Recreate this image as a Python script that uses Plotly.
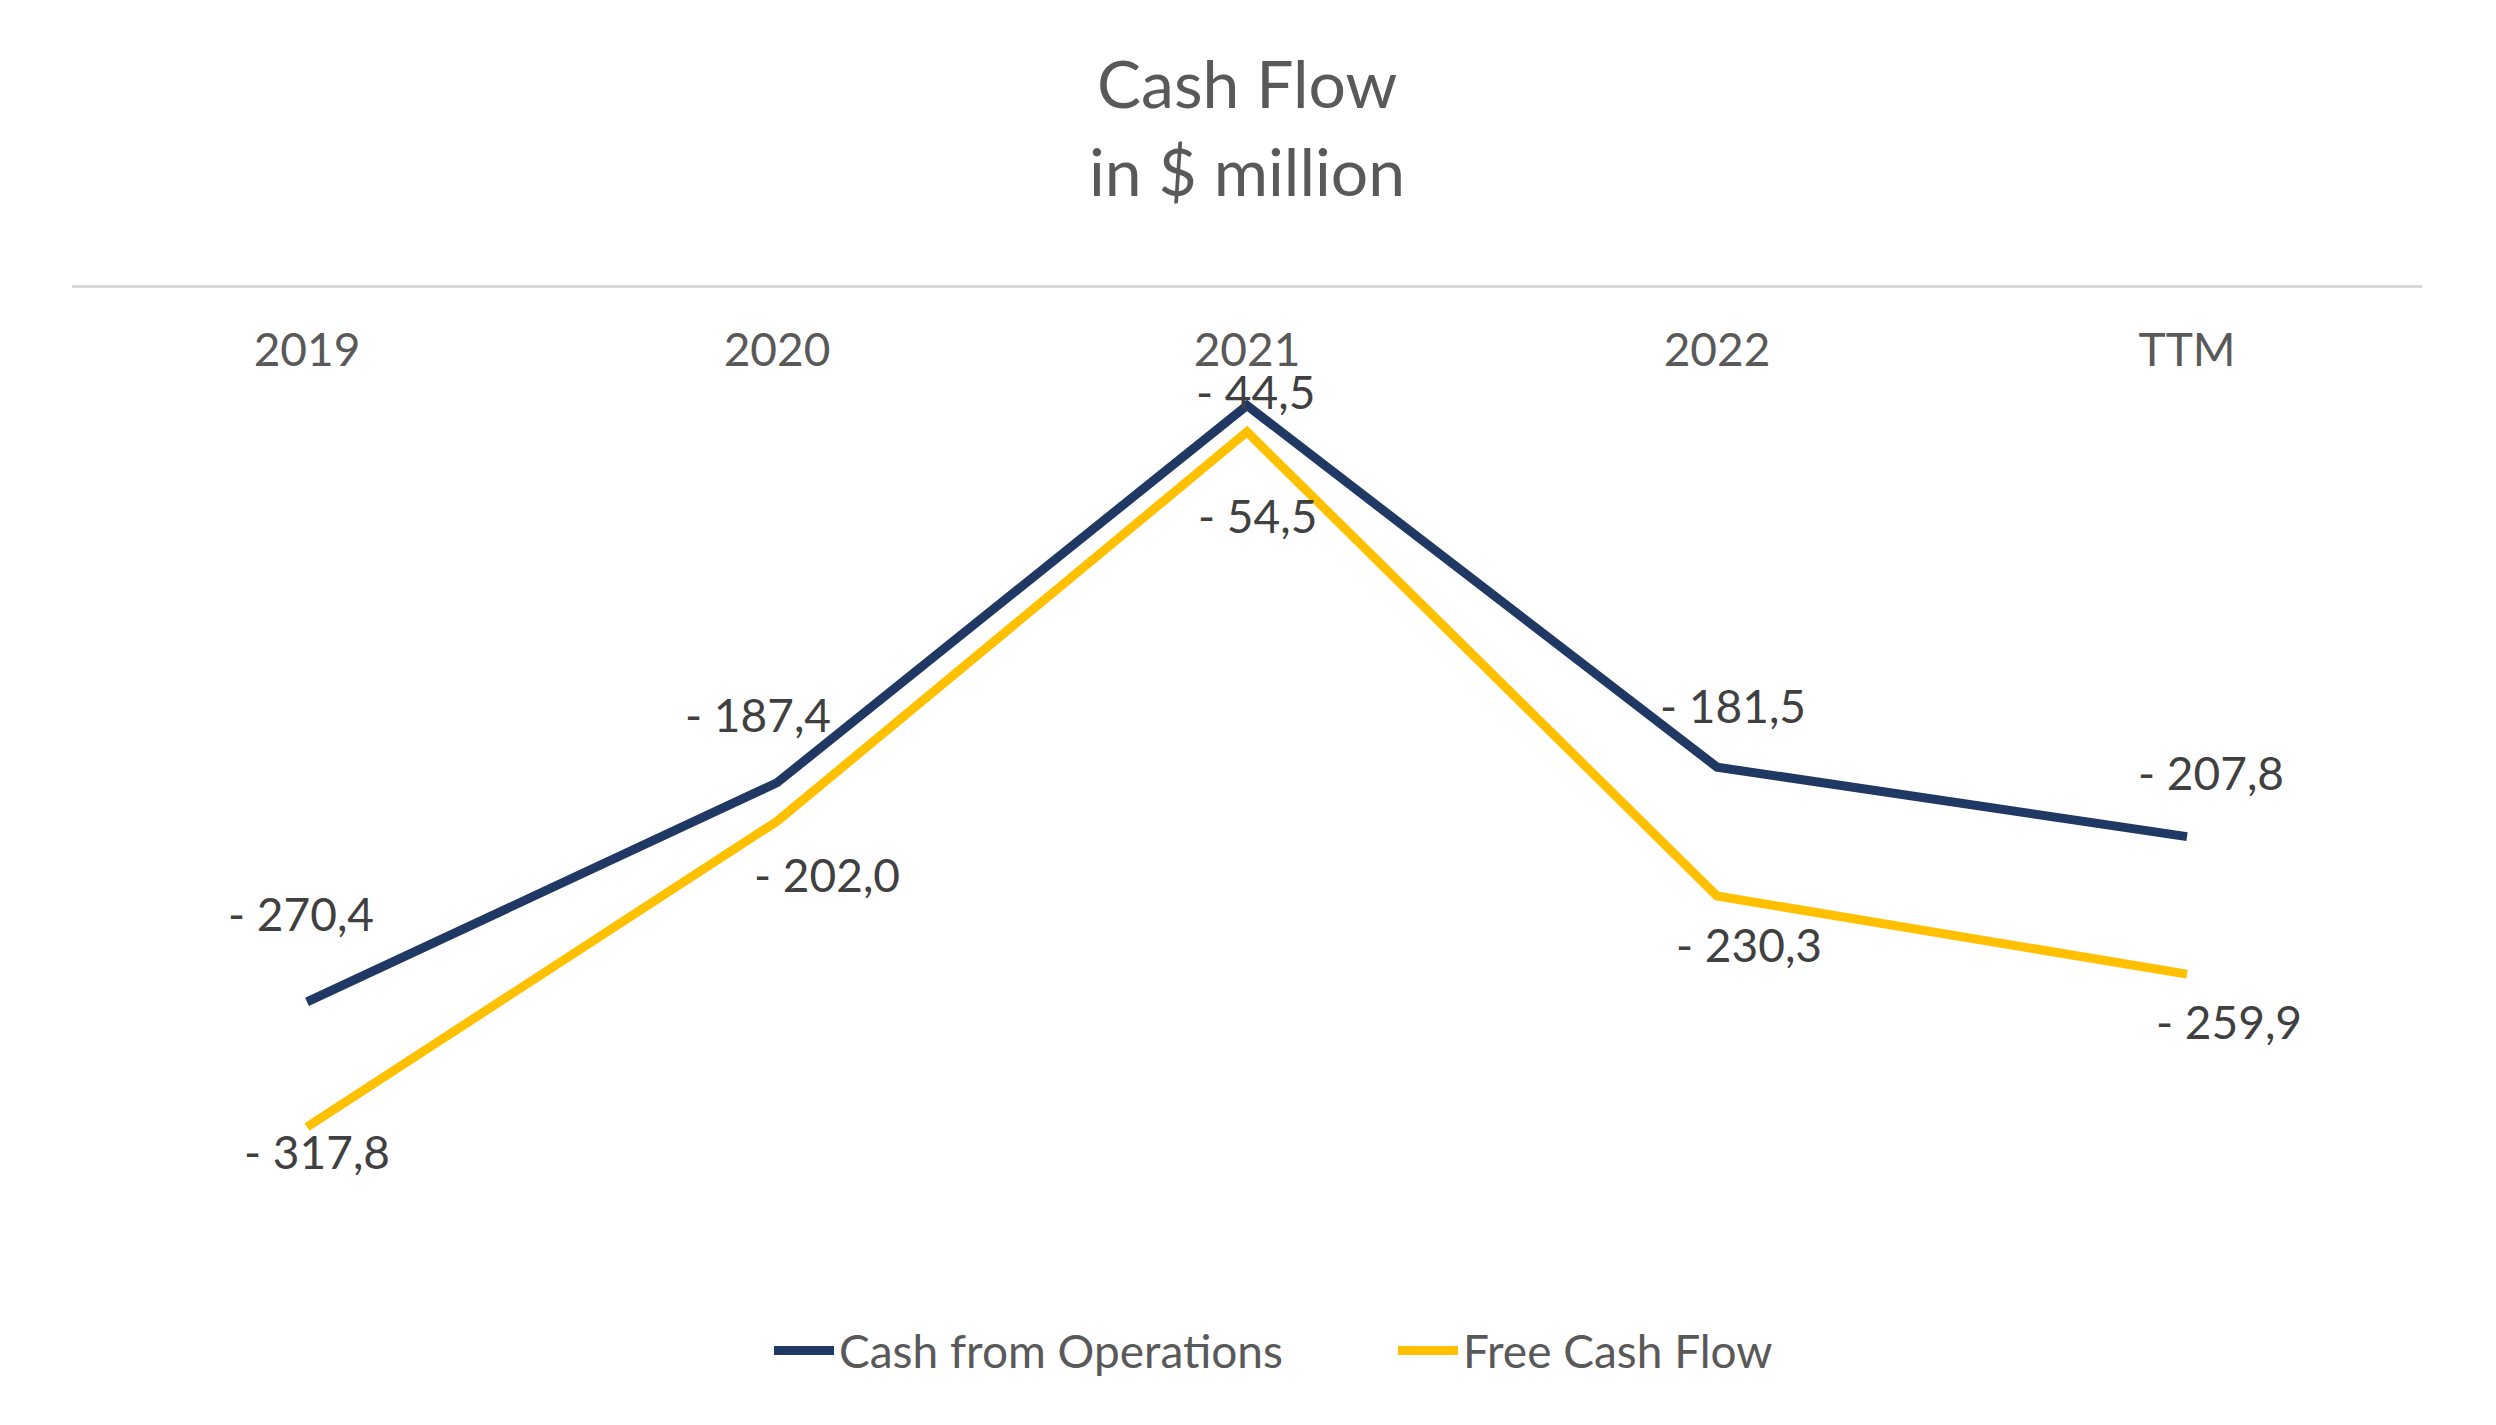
import plotly.graph_objects as go

# data
periods = ["2019", "2020", "2021", "2022", "TTM"]
cash_from_operations = [-270.4, -187.4, -44.5, -181.5, -207.8]
free_cash_flow = [-317.8, -202.0, -54.5, -230.3, -259.9]

NAVY = "#203864"
GOLD = "#FFC000"
GREY_TEXT = "#595959"
LABEL_TEXT = "#404040"
FONT = "Lato"

# label offsets in pixels (style only), one per point
cfo_shift = [(-6, 88), (-19, 68), (8, 14), (16, 62), (24, 64)]
fcf_shift = [(10, -25), (50, -53), (10, -84), (32, -49), (42, -47)]


def fmt(v):
    return ("- " if v < 0 else "") + f"{abs(v):.1f}".replace(".", ",")


fig = go.Figure()
fig.add_trace(go.Scatter(x=periods, y=cash_from_operations, mode="lines",
                         name="Cash from Operations",
                         line=dict(color=NAVY, width=9)))
fig.add_trace(go.Scatter(x=periods, y=free_cash_flow, mode="lines",
                         name="Free Cash Flow",
                         line=dict(color=GOLD, width=9)))

annotations = []
for series, shifts in ((cash_from_operations, cfo_shift), (free_cash_flow, fcf_shift)):
    # category index as x, since "2019" would be read as a position
    for i, (v, (dx, dy)) in enumerate(zip(series, shifts)):
        annotations.append(dict(x=i, y=v, xref="x", yref="y", text=fmt(v),
                                showarrow=False, xshift=dx, yshift=dy,
                                font=dict(family=FONT, size=46, color=LABEL_TEXT)))

annotations.append(dict(x=0.5, y=1.222, xref="paper", yref="paper", text="Cash Flow",
                        showarrow=False, yanchor="middle",
                        font=dict(family=FONT, size=66, color=GREY_TEXT)))
annotations.append(dict(x=0.5, y=1.127, xref="paper", yref="paper", text="in $ million",
                        showarrow=False, yanchor="middle",
                        font=dict(family=FONT, size=66, color=GREY_TEXT)))

fig.update_layout(
    width=2496, height=1425,
    margin=dict(l=64, r=82, t=280, b=221),
    paper_bgcolor="white", plot_bgcolor="white",
    showlegend=True,
    legend=dict(orientation="h", x=0.2966, xanchor="left", y=-0.15, yanchor="middle",
                font=dict(family=FONT, size=46, color=GREY_TEXT),
                itemwidth=60, entrywidth=549, entrywidthmode="pixels"),
    annotations=annotations,
)
fig.update_xaxes(type="category", range=[-0.5, 4.5], side="top",
                 ticklabelposition="inside", ticklabelstandoff=52,
                 showline=True, linecolor="#D9D9D9", linewidth=3,
                 showgrid=False, ticks="", zeroline=False,
                 tickfont=dict(family=FONT, size=46, color=GREY_TEXT))
fig.update_yaxes(range=[-350, 0], visible=False, showgrid=False, zeroline=False)

fig.write_html("out.html")
